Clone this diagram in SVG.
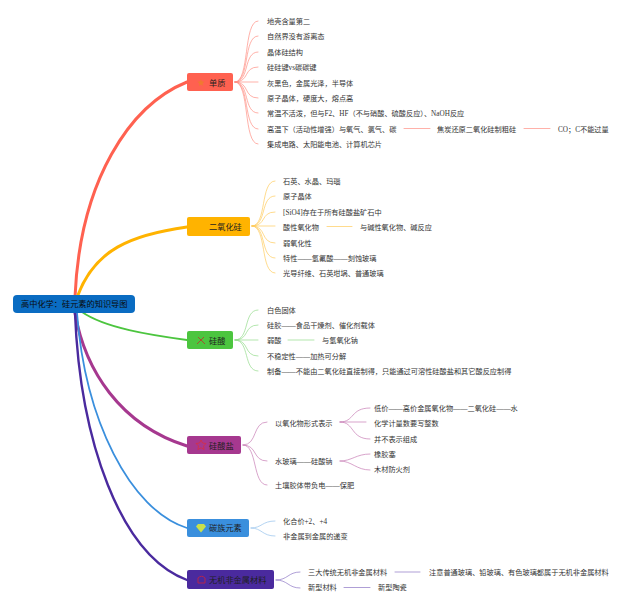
<svg xmlns="http://www.w3.org/2000/svg" width="640" height="608" viewBox="0 0 640 608">
<style>
text{font-family:"Liberation Serif","Noto Sans CJK SC",serif;font-size:7.2px;fill:#333}
.n{font-size:8.2px;fill:#1f1f1f}
.c{fill:none;stroke-linecap:round}
.m{stroke-width:3}
.s{stroke-width:.7}
.red{stroke:#FF8F84}.yel{stroke:#FFCB5C}.grn{stroke:#93DB8B}.pur{stroke:#C77DB5}.blu{stroke:#93C1EC}.vio{stroke:#8C76C4}
</style>
<rect width="640" height="608" fill="#fff"/>
<g id="connectors">
<path class="c m" stroke="#FF6150" d="M75 297C80 180 130 105 187 82"/>
<path class="c m" stroke="#FFB300" d="M78 295C95 250 130 235 187 227"/>
<path class="c" stroke-width="1.800" stroke="#4CC53F" d="M82 312C105 328 150 335 187 340"/>
<path class="c m" stroke="#A6388F" d="M75 313C85 370 120 425 187 446"/>
<path class="c" stroke-width="1.800" stroke="#3A8FDD" d="M77 313C85 420 130 510 187 528"/>
<path class="c" stroke-width="2.400" stroke="#4A2A9E" d="M75 313C80 440 120 555 187 580"/>
<g class="c s red" fill="none">
<path d="M235 82C250 82 243 21 258 21"/><path d="M235 82C250 82 243 36 258 36"/><path d="M235 82C250 82 243 52 258 52"/><path d="M235 82C250 82 243 67 258 67"/><path d="M235 82H258"/><path d="M235 82C250 82 243 98 258 98"/><path d="M235 82C250 82 243 113 258 113"/><path d="M235 82C250 82 243 129 258 129"/><path d="M235 82C250 82 243 144 258 144"/>
<path d="M404 128.500H430"/><path d="M524 128.500H550"/>
</g>
<g class="c s yel" fill="none">
<path d="M252 226C267 226 260 181 275 181"/><path d="M252 226C267 226 260 196 275 196"/><path d="M252 226C267 226 260 212 275 212"/><path d="M252 226H275"/><path d="M252 226C267 226 260 243 275 243"/><path d="M252 226C267 226 260 258 275 258"/><path d="M252 226C267 226 260 273 275 273"/>
<path d="M327 226.500H352"/>
</g>
<g class="c s grn" fill="none">
<path d="M235 340C250 340 243 310 258 310"/><path d="M235 340C250 340 243 325 258 325"/><path d="M235 340H258"/><path d="M235 340C250 340 243 356 258 356"/><path d="M235 340C250 340 243 371 258 371"/>
<path d="M288 340H314"/>
</g>
<g class="c s pur" fill="none">
<path d="M243 445C258 445 252 422 267 422"/><path d="M243 445C258 445 252 461 267 461"/><path d="M243 445C258 445 252 485 267 485"/>
<path d="M340 422C355 422 350 408 370 408"/><path d="M340 422H366"/><path d="M340 422C355 422 350 439 370 439"/>
<path d="M340 461C352 461 356 454 370 454"/><path d="M340 461C352 461 356 470 370 470"/>
</g>
<g class="c s blu" fill="none">
<path d="M251 528C262 528 262 521 275 521"/><path d="M251 528C262 528 262 536 275 536"/>
</g>
<g class="c s vio" fill="none">
<path d="M276 580C288 580 288 572 300 572"/><path d="M276 580C288 580 288 588 300 588"/>
<path d="M395 572H420"/><path d="M344 587.500H370"/>
</g>
</g>
<g id="root"><rect x="13" y="295" width="122" height="18" rx="4" fill="#0A6CC2"/><text x="21" y="307" class="n" style="fill:#0b0b0b">高中化学：硅元素的知识导图</text></g>
<g id="node-danzhi"><rect x="187" y="73" width="46" height="18" rx="2" fill="#FF6150"/><path d="M201 79l1 2.500 2.500.3-2 1.700.6 2.500-2.100-1.400-2.100 1.400.6-2.500-2-1.700 2.500-.3z" fill="#F07A30"/><text x="209" y="86" class="n">单质</text></g>
<g id="node-sio2"><rect x="187" y="217" width="63" height="19" rx="2" fill="#FFB300"/><text x="209" y="230" class="n">二氧化硅</text></g>
<g id="node-guisuan"><rect x="187" y="331" width="46" height="18" rx="2" fill="#4CC53F"/><path d="M198 337l7 7M204 337l-7 7" stroke="#A5502E" stroke-width="1"/><text x="209" y="344" class="n">硅酸</text></g>
<g id="node-guisuanyan"><rect x="187" y="436" width="54" height="18" rx="2" fill="#A6388F"/><path d="M201 440l1.500 3 3.500.5-2.500 2.500.6 3.500-3.100-1.700-3.100 1.700.6-3.500-2.500-2.500 3.500-.5z" fill="none" stroke="#D0304F" stroke-width="1"/><text x="209" y="449" class="n">硅酸盐</text></g>
<g id="node-tanzu"><rect x="187" y="519" width="62" height="18" rx="2" fill="#3A8FDD"/><path d="M198 524h6l2 2.500-5 6-5-6z" fill="#C9E04A"/><text x="209" y="531" class="n">碳族元素</text></g>
<g id="node-wuji"><rect x="187" y="570" width="87" height="19" rx="2" fill="#4A2A9E"/><path d="M198 578q3.500-3.500 7 0v5h-7z" fill="none" stroke="#B3244F" stroke-width="1"/><text x="209" y="583" class="n">无机非金属材料</text></g>
<g id="leaves-danzhi">
<text x="267" y="24">地壳含量第二</text><text x="267" y="39">自然界没有游离态</text><text x="267" y="55">晶体硅结构</text><text x="267" y="70">硅硅键vs碳碳键</text><text x="267" y="86">灰黑色，金属光泽，半导体</text><text x="267" y="101">原子晶体，硬度大，熔点高</text><text x="267" y="116">常温不活泼，但与F2、HF（不与硝酸、硫酸反应）、NaOH反应</text><text x="267" y="132">高温下（活动性增强）与氧气、氯气、碳</text><text x="437" y="132">焦炭还原二氧化硅制粗硅</text><text x="558" y="132">CO；C不能过量</text><text x="267" y="147">集成电路、太阳能电池、计算机芯片</text>
</g>
<g id="leaves-sio2">
<text x="283" y="184">石英、水晶、玛瑙</text><text x="283" y="199">原子晶体</text><text x="283" y="215">[SiO4]存在于所有硅酸盐矿石中</text><text x="283" y="230">酸性氧化物</text><text x="360" y="230">与碱性氧化物、碱反应</text><text x="283" y="246">弱氧化性</text><text x="283" y="261">特性——氢氟酸——刻蚀玻璃</text><text x="283" y="276">光导纤维、石英坩埚、普通玻璃</text>
</g>
<g id="leaves-guisuan">
<text x="267" y="313">白色固体</text><text x="267" y="328">硅胶——食品干燥剂、催化剂载体</text><text x="267" y="343">弱酸</text><text x="322" y="343">与氢氧化钠</text><text x="267" y="359">不稳定性——加热可分解</text><text x="267" y="374">制备——不能由二氧化硅直接制得，只能通过可溶性硅酸盐和其它酸反应制得</text>
</g>
<g id="leaves-guisuanyan">
<text x="275" y="426">以氧化物形式表示</text><text x="374" y="411">低价——高价金属氧化物——二氧化硅——水</text><text x="374" y="426">化学计量数要写整数</text><text x="374" y="442">并不表示组成</text><text x="275" y="464">水玻璃——硅酸钠</text><text x="374" y="457">橡胶塞</text><text x="374" y="472">木材防火剂</text><text x="275" y="488">土壤胶体带负电——保肥</text>
</g>
<g id="leaves-tanzu">
<text x="283" y="524">化合价+2、+4</text><text x="283" y="539">非金属到金属的递变</text>
</g>
<g id="leaves-wuji">
<text x="308" y="575">三大传统无机非金属材料</text><text x="429" y="575">注意普通玻璃、铅玻璃、有色玻璃都属于无机非金属材料</text><text x="308" y="590">新型材料</text><text x="378" y="590">新型陶瓷</text>
</g>
</svg>
